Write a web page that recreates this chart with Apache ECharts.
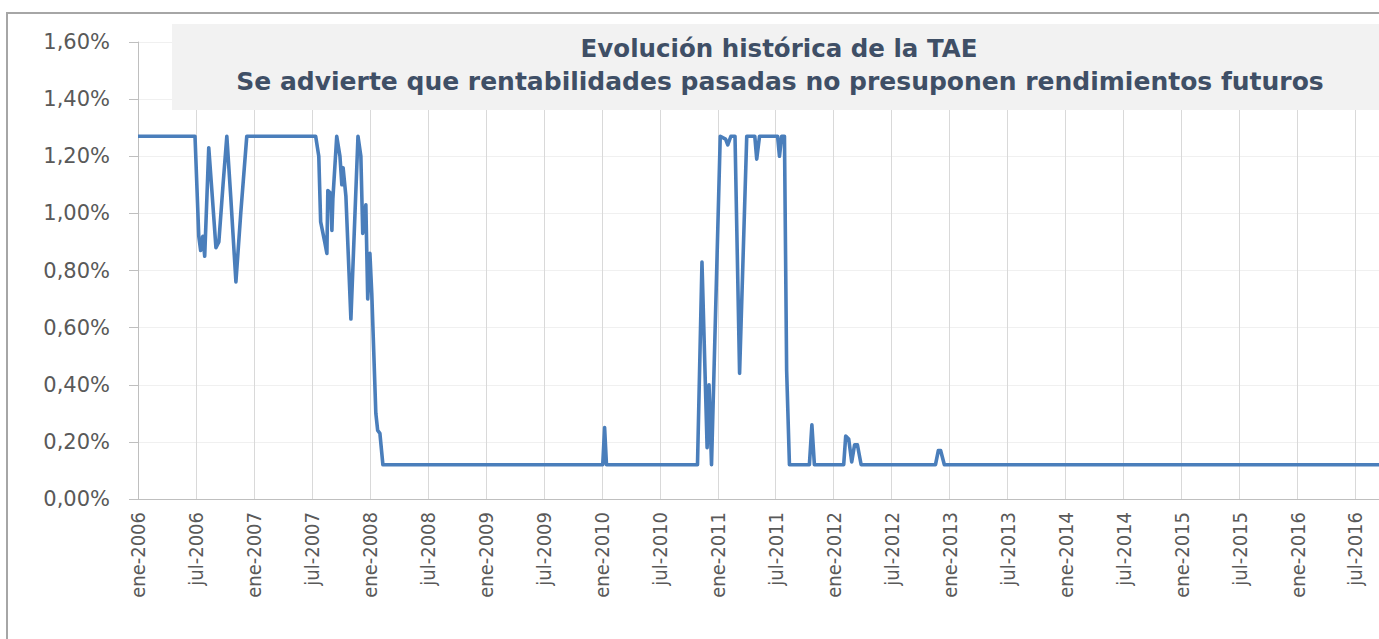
<!DOCTYPE html>
<html>
<head>
<meta charset="utf-8">
<script src="https://cdn.jsdelivr.net/npm/echarts@6/dist/echarts.min.js"></script>
<style>
html,body{margin:0;padding:0;background:#fff;}
#chart{width:1379px;height:639px;}
</style>
</head>
<body>
<div id="chart"></div>
<script>
// ---- data ----
const titleLines = ['Evolución histórica de la TAE', 'Se advierte que rentabilidades pasadas no presuponen rendimientos futuros'];
const tickLabels = ['ene-2006','jul-2006','ene-2007','jul-2007','ene-2008','jul-2008','ene-2009','jul-2009','ene-2010','jul-2010','ene-2011','jul-2011','ene-2012','jul-2012','ene-2013','jul-2013','ene-2014','jul-2014','ene-2015','jul-2015','ene-2016','jul-2016'];
const dates = [
 '2006-01-01','2006-06-28','2006-07-10','2006-07-16','2006-07-23','2006-07-29','2006-08-11','2006-08-21','2006-09-03','2006-09-12',
 '2006-09-25','2006-10-07','2006-10-20','2006-11-05','2006-11-20','2006-12-09',
 '2007-07-13','2007-07-23','2007-07-29','2007-08-11','2007-08-18','2007-08-21','2007-08-30','2007-09-03','2007-09-06','2007-09-18',
 '2007-09-28','2007-10-04','2007-10-08','2007-10-17','2007-11-02','2007-11-24','2007-12-03','2007-12-09','2007-12-19','2007-12-25',
 '2008-01-01','2008-01-07','2008-01-20','2008-01-26','2008-02-02','2008-02-11',
 '2010-01-04','2010-01-10','2010-01-16',
 '2010-10-29','2010-11-12','2010-11-28','2010-12-04','2010-12-12',
 '2011-01-09','2011-01-26','2011-02-02','2011-02-11','2011-02-23','2011-03-09','2011-04-01','2011-04-26','2011-05-02','2011-05-11',
 '2011-07-07','2011-07-13','2011-07-20','2011-07-29','2011-08-05','2011-08-14',
 '2011-10-16','2011-10-24','2011-11-01',
 '2012-02-02','2012-02-08','2012-02-17','2012-02-26','2012-03-06','2012-03-15','2012-03-27',
 '2012-11-17','2012-11-26','2012-12-03','2012-12-15',
 '2016-09-14'
];
const tae = [
 1.27,1.27,0.92,0.87,0.92,0.85,1.23,1.08,0.88,0.90,
 1.10,1.27,1.05,0.76,1.00,1.27,
 1.27,1.20,0.97,0.90,0.86,1.08,1.07,0.94,1.05,1.27,
 1.20,1.10,1.16,1.06,0.63,1.27,1.20,0.93,1.03,0.70,
 0.86,0.72,0.30,0.24,0.23,0.12,
 0.12,0.25,0.12,
 0.12,0.83,0.18,0.40,0.12,
 1.27,1.26,1.24,1.27,1.27,0.44,1.27,1.27,1.19,1.27,
 1.27,1.20,1.27,1.27,0.45,0.12,
 0.12,0.26,0.12,
 0.12,0.22,0.21,0.13,0.19,0.19,0.12,
 0.12,0.17,0.17,0.12,
 0.12
];
const axisStart = '2006-01-01';
const axisEnd = '2016-09-14';

// months elapsed since axisStart
function toMonth(s){
  const p = s.split('-').map(Number);
  const b = axisStart.split('-').map(Number);
  const dim = new Date(p[0], p[1], 0).getDate();
  return (p[0]-b[0])*12 + (p[1]-b[1]) + (p[2]-1)/dim;
}
const seriesData = dates.map((d,i)=>[toMonth(d), tae[i]]);

const chart = echarts.init(document.getElementById('chart'), null, {renderer:'svg'});
chart.setOption({
  animation:false,
  backgroundColor:'#ffffff',
  grid:{left:138, top:42, right:0, bottom:140, containLabel:false},
  xAxis:{
    type:'value', min:0, max:toMonth(axisEnd), interval:6,
    axisLine:{show:true, lineStyle:{color:'#bfbfbf', width:1}},
    axisTick:{show:false},
    splitLine:{show:true, lineStyle:{color:'#d9d9d9', width:1}},
    axisLabel:{
      rotate:90, margin:13, color:'#595959',
      fontFamily:'"DejaVu Sans Condensed","Liberation Sans Narrow","DejaVu Sans",sans-serif',
      fontSize:20, showMaxLabel:false,
      formatter:function(v){
        const k = Math.round(v/6);
        if (Math.abs(v - k*6) > 1e-6 || k >= tickLabels.length) return '';
        return tickLabels[k];
      }
    }
  },
  yAxis:{
    type:'value', min:0, max:1.6, interval:0.2,
    axisLine:{show:true, lineStyle:{color:'#bfbfbf', width:1}},
    axisTick:{show:true, length:9, lineStyle:{color:'#bfbfbf'}},
    splitLine:{show:true, lineStyle:{color:'#f0f0f0', width:1}},
    axisLabel:{
      margin:28, color:'#595959', fontFamily:'"DejaVu Sans",sans-serif', fontSize:21,
      formatter:function(v){ return v.toFixed(2).replace('.', ',') + '%'; }
    }
  },
  graphic:[
    {type:'rect', z:1, silent:true, shape:{x:7, y:13, width:1500, height:800}, style:{fill:'none', stroke:'#a6a6a6', lineWidth:2}},
    {type:'rect', z:10, silent:true, shape:{x:172, y:24, width:1300, height:86}, style:{fill:'#f2f2f2'}},
    {type:'text', z:11, x:779, y:48, style:{text:titleLines[0], align:'center', verticalAlign:'middle', fill:'#3f4f66', font:'bold 24.5px "DejaVu Sans", sans-serif'}},
    {type:'text', z:11, x:780, y:81, style:{text:titleLines[1], align:'center', verticalAlign:'middle', fill:'#3f4f66', font:'bold 25px "DejaVu Sans", sans-serif'}}
  ],
  series:[{
    type:'line', data:seriesData, showSymbol:false, symbol:'none',
    lineStyle:{color:'#4a7ebb', width:3.6, join:'round'},
    itemStyle:{color:'#4a7ebb'}, z:5
  }]
});
</script>
</body>
</html>
